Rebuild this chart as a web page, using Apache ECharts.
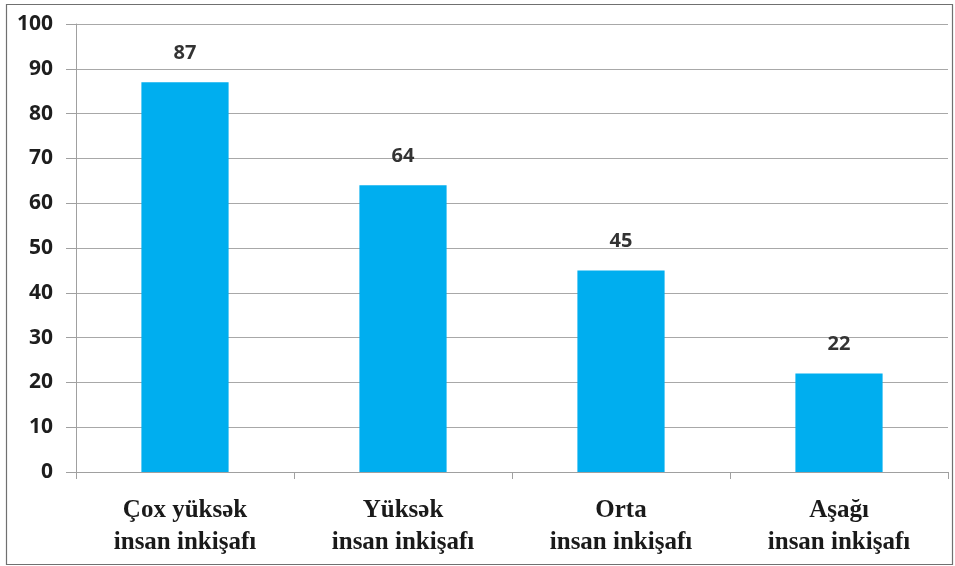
<!DOCTYPE html>
<html>
<head>
<meta charset="utf-8">
<script src="https://cdn.jsdelivr.net/npm/echarts@6/dist/echarts.min.js"></script>
<style>
  html, body { margin: 0; padding: 0; background: #fff; }
  #chart { width: 955px; height: 566px; }
</style>
</head>
<body>
<div id="chart"></div>
<script>
// categories and values
const categories = [
  "Çox yüksək\ninsan inkişafı",
  "Yüksək\ninsan inkişafı",
  "Orta\ninsan inkişafı",
  "Aşağı\ninsan inkişafı"
];
const values = [87, 64, 45, 22];
const yTicks = { min: 0, max: 100, interval: 10 };

const chart = echarts.init(document.getElementById("chart"));
chart.setOption({
  animation: false,
  backgroundColor: "#fff",
  graphic: [{
    type: "rect",
    left: 4, top: 2,
    shape: { width: 946, height: 560 },
    style: { fill: "none", stroke: "#707070", lineWidth: 1.2 },
    silent: true
  }],
  grid: { left: 76, right: 7, top: 24, bottom: 94 },
  xAxis: {
    type: "category",
    data: categories,
    axisLine: { show: true, lineStyle: { color: "#a0a0a0", width: 1 } },
    axisTick: { show: true, alignWithLabel: false, length: 7, lineStyle: { color: "#a0a0a0" } },
    axisLabel: {
      margin: 23,
      color: "#1a1a1a",
      fontFamily: "Liberation Serif",
      fontWeight: "bold",
      fontSize: 25,
      lineHeight: 32
    }
  },
  yAxis: {
    type: "value",
    min: yTicks.min, max: yTicks.max, interval: yTicks.interval,
    axisLine: { show: true, lineStyle: { color: "#a0a0a0", width: 1 } },
    axisTick: { show: true, length: 10, lineStyle: { color: "#a0a0a0" } },
    splitLine: { show: true, lineStyle: { color: "#a8a8a8", width: 1 } },
    axisLabel: {
      margin: 23,
      color: "#1e1e1e",
      fontFamily: "Open Sans",
      fontWeight: "bold",
      fontSize: 21
    }
  },
  series: [{
    type: "bar",
    data: values,
    barWidth: "40%",
    itemStyle: { color: "#00aeef" },
    label: {
      show: true,
      position: "top",
      distance: 19,
      color: "#333",
      fontFamily: "Open Sans",
      fontWeight: "bold",
      fontSize: 20
    }
  }]
});
</script>
</body>
</html>
